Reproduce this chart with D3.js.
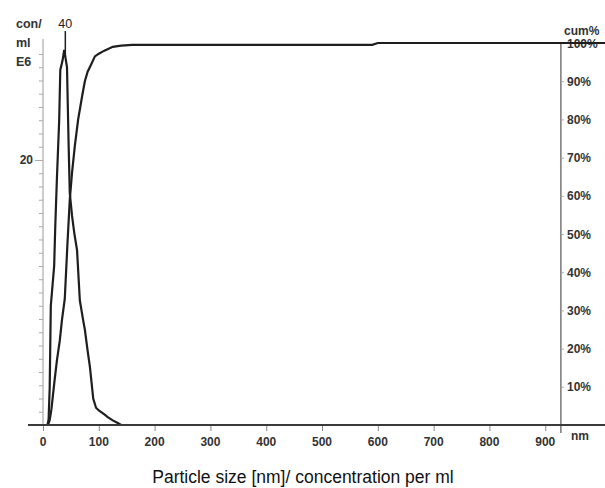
<!DOCTYPE html>
<html>
<head>
<meta charset="utf-8">
<script src="https://cdn.jsdelivr.net/npm/d3@7"></script>
<style>
  body { margin: 0; background: #fff; }
  svg { display: block; font-family: "Liberation Sans", Arial, sans-serif; }
</style>
</head>
<body>
<div id="chart"></div>
<script>
// particle size distribution (concentration, E6 per ml)
const concNm  = [0, 8, 10, 12, 14, 17, 20, 22, 25, 29, 31, 35, 38, 40, 43, 45, 46, 48, 52, 56, 61, 66, 72, 75, 80, 84, 90, 95, 100, 110, 116, 125, 134, 140, 930];
const concVal = [0, 0, 0.4, 2.8, 9, 10.5, 12, 15, 18.7, 23, 26.8, 27.5, 28.3, 27.8, 27, 23, 21, 17.5, 15.8, 14.5, 13.2, 9.4, 7.9, 7.2, 5.6, 4.4, 2.0, 1.3, 1.1, 0.8, 0.6, 0.35, 0.15, 0, 0];

// cumulative %
const cumNm  = [0, 9, 12, 15, 18, 21, 25, 30, 34, 39, 44, 48, 52, 57, 63, 70, 75, 80, 85, 93, 100, 110, 125, 140, 160, 200, 590, 600, 930, 1010];
const cumVal = [0, 0, 1.3, 4, 8, 12, 17, 22, 27.5, 33, 48, 59, 66, 73, 80, 86, 90, 92.5, 94, 96.5, 97.2, 98, 99, 99.3, 99.5, 99.5, 99.5, 100, 100, 100];

const xTicks = [0, 100, 200, 300, 400, 500, 600, 700, 800, 900];
const cumTicks = [10, 20, 30, 40, 50, 60, 70, 80, 90, 100];
const concLabelTicks = [20];
const modeNm = 40;

const WIDTH = 605, HEIGHT = 488;

let svg = d3.select("#chart").append("svg")
    .attr("width", WIDTH)
    .attr("height", HEIGHT);

let x = d3.scaleLinear().domain([0, 930]).range([43, 562]);
let yCum = d3.scaleLinear().domain([0, 100]).range([425, 43]);
let yConc = d3.scaleLinear().domain([0, 28.83]).range([425, 43]);

const textColor = "#333";

// left axis (minor ticks every 1 E6)
let leftAxis = svg.append("g")
    .attr("transform", `translate(${x(0)},0)`)
    .call(d3.axisLeft(yConc).tickValues(d3.range(1, 29)).tickSize(4).tickSizeOuter(0).tickFormat(""));
leftAxis.select(".domain").attr("stroke", "#999").attr("d", `M0,${yConc(0)}V39`);
leftAxis.selectAll(".tick line").attr("stroke", "#aaa");
leftAxis.selectAll(".tick").filter(d => concLabelTicks.includes(d)).select("line").attr("x2", -8);

svg.selectAll(".conc-label")
    .data(concLabelTicks)
    .enter().append("text")
    .attr("x", 33)
    .attr("y", d => yConc(d) + 4.5)
    .attr("text-anchor", "end")
    .style("font-size", "12px")
    .style("font-weight", "bold")
    .style("fill", textColor)
    .text(d => d);

svg.selectAll(".unit-label")
    .data(["con/", "ml", "E6"])
    .enter().append("text")
    .attr("x", 16)
    .attr("y", (d, i) => [28, 47, 66][i])
    .style("font-size", "12.5px")
    .style("font-weight", "bold")
    .style("fill", textColor)
    .text(d => d);

// right axis (cum%)
let rightAxis = svg.append("g")
    .attr("transform", `translate(${x(928)},0)`)
    .call(d3.axisRight(yCum).tickValues(cumTicks).tickSize(3).tickSizeOuter(0).tickFormat(""));
rightAxis.select(".domain").attr("stroke", "#777").attr("stroke-width", 1.5).attr("d", `M0,42V433`);
rightAxis.selectAll(".tick line").attr("stroke", "#aaa");

svg.selectAll(".cum-label")
    .data(cumTicks)
    .enter().append("text")
    .attr("x", 567)
    .attr("y", d => yCum(d) + 4.5)
    .style("font-size", "12px")
    .style("font-weight", "bold")
    .style("fill", textColor)
    .text(d => d + "%");

svg.append("text")
    .attr("x", 564)
    .attr("y", 35)
    .style("font-size", "12px")
    .style("font-weight", "bold")
    .style("fill", textColor)
    .text("cum%");

// bottom axis
let bottomAxis = svg.append("g")
    .attr("transform", `translate(0,${yConc(0)})`)
    .call(d3.axisBottom(x).tickValues(xTicks).tickSize(6).tickSizeOuter(0).tickFormat(""));
bottomAxis.select(".domain").remove();
bottomAxis.selectAll(".tick line").attr("stroke", "#888");

svg.selectAll(".x-label")
    .data(xTicks)
    .enter().append("text")
    .attr("x", d => x(d))
    .attr("y", 446)
    .attr("text-anchor", "middle")
    .style("font-size", "12px")
    .style("font-weight", "bold")
    .style("fill", textColor)
    .text(d => d);

svg.append("text")
    .attr("x", 571)
    .attr("y", 440)
    .style("font-size", "12px")
    .style("font-weight", "bold")
    .style("fill", textColor)
    .text("nm");

// curves
let concLine = d3.line()
    .x((d, i) => x(concNm[i]))
    .y(d => yConc(d));

let cumLine = d3.line()
    .x((d, i) => x(cumNm[i]))
    .y(d => yCum(d));

svg.append("path")
    .attr("d", cumLine(cumVal))
    .attr("fill", "none")
    .attr("stroke", "#1e1e1e")
    .attr("stroke-width", 2.2);

svg.append("path")
    .attr("d", concLine(concVal))
    .attr("fill", "none")
    .attr("stroke", "#1e1e1e")
    .attr("stroke-width", 2.2);

svg.append("line")
    .attr("x1", 28).attr("x2", WIDTH)
    .attr("y1", yConc(0)).attr("y2", yConc(0))
    .attr("stroke", "#3a3a3a")
    .attr("stroke-width", 2);

// mode marker
let modeVal = concVal[concNm.indexOf(modeNm)];
svg.append("line")
    .attr("x1", x(modeNm)).attr("x2", x(modeNm))
    .attr("y1", yConc(modeVal)).attr("y2", 31)
    .attr("stroke", "#1e1e1e")
    .attr("stroke-width", 1.5);

svg.append("text")
    .attr("x", x(modeNm))
    .attr("y", 28)
    .attr("text-anchor", "middle")
    .style("font-size", "12.5px")
    .style("fill", "#222")
    .text(modeNm);

// title
svg.append("text")
    .attr("x", 303)
    .attr("y", 483)
    .attr("text-anchor", "middle")
    .style("font-size", "17.5px")
    .style("fill", "#111")
    .text("Particle size [nm]/ concentration per ml");
</script>
</body>
</html>
